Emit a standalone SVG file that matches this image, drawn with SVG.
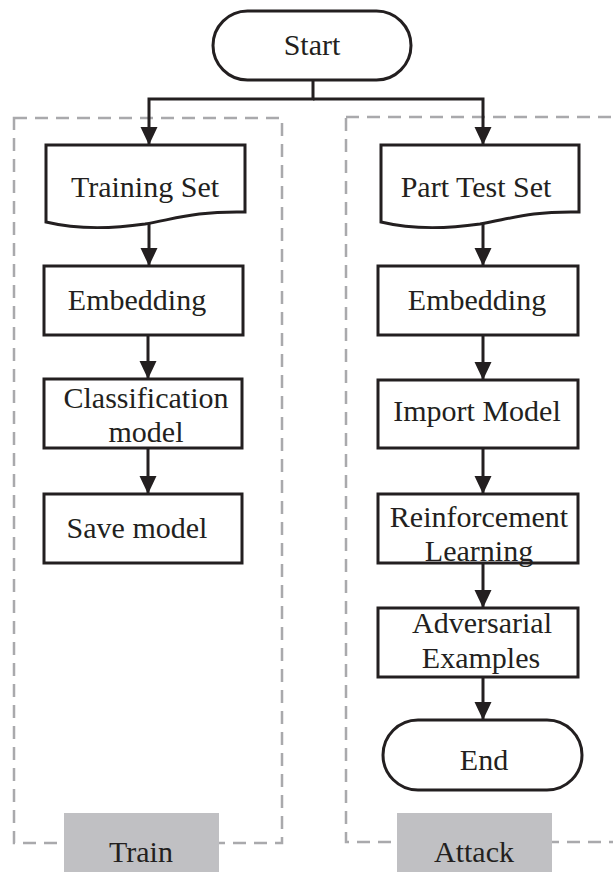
<svg xmlns="http://www.w3.org/2000/svg" width="613" height="872" viewBox="0 0 613 872">
<defs>
<marker id="ah" viewBox="0 0 18 18" refX="18" refY="9" markerWidth="18" markerHeight="18" markerUnits="userSpaceOnUse" orient="auto">
<path d="M0,0.5 L18,9 L0,17.5 Z" fill="#231f20"/>
</marker>
</defs>
<style>
.box{fill:#fff;stroke:#231f20;stroke-width:3}
.dash{fill:none;stroke:#a9a9ac;stroke-width:2.5;stroke-dasharray:13 8}
.lbl{fill:#c0c0c3}
.t{font-family:"Liberation Serif","Times New Roman",serif;font-size:30px;fill:#231f20;text-anchor:middle}
.c{fill:none;stroke:#231f20;stroke-width:3}
</style>
<rect width="613" height="872" fill="#fff"/>
<g id="train-group">
<rect class="dash" x="14" y="118" width="268" height="725"/>
<rect class="lbl" x="64" y="813" width="155" height="59"/>
<text class="t" x="141" y="862">Train</text>
</g>
<g id="attack-group">
<rect class="dash" x="346" y="117" width="290" height="725"/>
<rect class="lbl" x="397" y="813" width="155" height="59"/>
<text class="t" x="474" y="862">Attack</text>
</g>
<g id="connectors">
<path class="c" d="M313,80 V99 H149 V145" marker-end="url(#ah)"/>
<path class="c" d="M313,99 H483 V145" marker-end="url(#ah)"/>
<path class="c" d="M149,224 V266" marker-end="url(#ah)"/>
<path class="c" d="M148,335 V379" marker-end="url(#ah)"/>
<path class="c" d="M148,448 V494" marker-end="url(#ah)"/>
<path class="c" d="M483,224 V266" marker-end="url(#ah)"/>
<path class="c" d="M483,335 V380" marker-end="url(#ah)"/>
<path class="c" d="M483,448 V494" marker-end="url(#ah)"/>
<path class="c" d="M483,563 V608" marker-end="url(#ah)"/>
<path class="c" d="M483,677 V720" marker-end="url(#ah)"/>
</g>
<g id="start">
<rect class="box" x="213" y="11" width="198" height="69" rx="34.5"/>
<text class="t" x="312" y="55">Start</text>
</g>
<g id="training-set">
<path class="box" d="M46,145 H245 V212 C195,211 175,219 145,224 C110,229 75,229 46,222 Z"/>
<text class="t" x="145" y="197">Training Set</text>
</g>
<g id="embedding-train">
<rect class="box" x="44" y="266" width="199" height="69"/>
<text class="t" x="137" y="310">Embedding</text>
</g>
<g id="classification-model">
<rect class="box" x="44" y="379" width="198" height="69"/>
<text class="t" x="146" y="408">Classification</text>
<text class="t" x="146" y="442">model</text>
</g>
<g id="save-model">
<rect class="box" x="44" y="494" width="198" height="69"/>
<text class="t" x="137" y="538">Save model</text>
</g>
<g id="part-test-set">
<path class="box" d="M381,145 H579 V212 C529,211 510,219 480,224 C445,229 410,229 381,222 Z"/>
<text class="t" x="476" y="197">Part Test Set</text>
</g>
<g id="embedding-attack">
<rect class="box" x="378" y="266" width="200" height="69"/>
<text class="t" x="477" y="310">Embedding</text>
</g>
<g id="import-model">
<rect class="box" x="378" y="380" width="200" height="68"/>
<text class="t" x="477" y="421">Import Model</text>
</g>
<g id="reinforcement-learning">
<rect class="box" x="378" y="494" width="200" height="69"/>
<text class="t" x="479" y="527">Reinforcement</text>
<text class="t" x="479" y="561">Learning</text>
</g>
<g id="adversarial-examples">
<rect class="box" x="378" y="608" width="200" height="69"/>
<text class="t" x="482" y="633">Adversarial</text>
<text class="t" x="481" y="668">Examples</text>
</g>
<g id="end">
<rect class="box" x="383" y="720" width="199" height="70" rx="35"/>
<text class="t" x="484" y="770">End</text>
</g>
</svg>
